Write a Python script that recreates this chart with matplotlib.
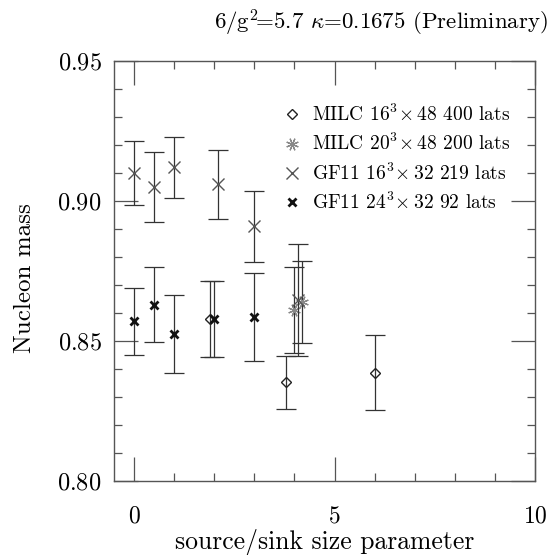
import matplotlib
matplotlib.use("Agg")
import matplotlib.pyplot as plt
from matplotlib.ticker import MultipleLocator

plt.rcParams['font.family'] = 'cmr10'
plt.rcParams['mathtext.fontset'] = 'cm'
plt.rcParams['axes.formatter.use_mathtext'] = True

# MILC 16^3x48 (diamonds)
milc16_x = [1.9, 3.8, 6.0]
milc16_y = [0.8578, 0.8352, 0.8387]
milc16_err = [0.0136, 0.0094, 0.0135]

# MILC 20^3x48
milc20_x = [4.0, 4.2]
milc20_y = [0.861, 0.864]
milc20_err = [0.0154, 0.0147]

# GF11 16^3x32
gf16_x = [0.0, 0.5, 1.0, 2.1, 3.0, 4.1]
gf16_y = [0.910, 0.905, 0.912, 0.906, 0.891, 0.8645]
gf16_err = [0.0114, 0.0124, 0.011, 0.0123, 0.0127, 0.020]

# GF11 24^3x32
gf24_x = [0.0, 0.5, 1.0, 2.0, 3.0]
gf24_y = [0.857, 0.863, 0.8525, 0.858, 0.8587]
gf24_err = [0.012, 0.0134, 0.0138, 0.0136, 0.0157]

labels = [r"MILC 16$^3\!\times$48 400 lats",
          r"MILC 20$^3\!\times$48 200 lats",
          r"GF11 16$^3\!\times$32 219 lats",
          r"GF11 24$^3\!\times$32 92 lats"]

fig = plt.figure(figsize=(5.58, 5.55), dpi=100)
ax = fig.add_axes([114/558, 74/555, 421/558, 420/555])

line_c = '#333333'
eb_kw = dict(fmt='none', ecolor=line_c, elinewidth=0.9, capsize=7.5, capthick=0.9)

series = [
    (milc16_x, milc16_y, milc16_err, dict(marker='D', ms=5.5, mfc='none', mec='#222222', mew=1.0)),
    (milc20_x, milc20_y, milc20_err, dict(marker=(8, 2, 22.5), ms=9, mec='#888888', mew=0.9)),
    (gf16_x, gf16_y, gf16_err, dict(marker='x', ms=8, mec='#555555', mew=1.0)),
    (gf24_x, gf24_y, gf24_err, dict(marker='x', ms=5.5, mec='#111111', mew=2.0)),
]

handles = []
for xs, ys, es, mk in series:
    ax.errorbar(xs, ys, yerr=es, **eb_kw)
    h, = ax.plot(xs, ys, ls='none', **mk)
    handles.append(h)

ax.set_xlim(-0.5, 10)
ax.set_ylim(0.80, 0.95)
ax.set_xticks([0, 5, 10])
ax.set_yticks([0.80, 0.85, 0.90, 0.95])
ax.xaxis.set_minor_locator(MultipleLocator(1))
ax.yaxis.set_minor_locator(MultipleLocator(0.01))
ax.tick_params(which='both', direction='in', top=True, right=True,
               color='#555555', width=0.9)
ax.tick_params(which='major', length=17)
ax.tick_params(which='minor', length=6)
ax.tick_params(axis='x', which='major', labelsize=17, pad=17.5)
ax.tick_params(axis='y', which='major', labelsize=17.5, pad=9)
for s in ax.spines.values():
    s.set_color('#555555')
    s.set_linewidth(1.0)

ax.set_xlabel("source/sink size parameter", fontsize=18.5)
ax.xaxis.label.set_va('baseline')
ax.xaxis.set_label_coords(0.5, -0.161)
ax.set_ylabel("Nucleon mass", fontsize=18)
ax.yaxis.set_label_coords(-0.185, 0.483)

fig.text(548/558, 1 - 30/555, r"6/g$^2\!$=5.7 $\kappa$=0.1675 (Preliminary)",
         fontsize=16.5, ha='right', va='baseline')

ax.legend(handles, labels, loc='upper left', bbox_to_anchor=(0.41, 0.898),
          frameon=False, fontsize=14, handlelength=0.6, handletextpad=0.7,
          labelspacing=0.42, borderpad=0, borderaxespad=0, numpoints=1)

fig.savefig("out.png", dpi=100)
